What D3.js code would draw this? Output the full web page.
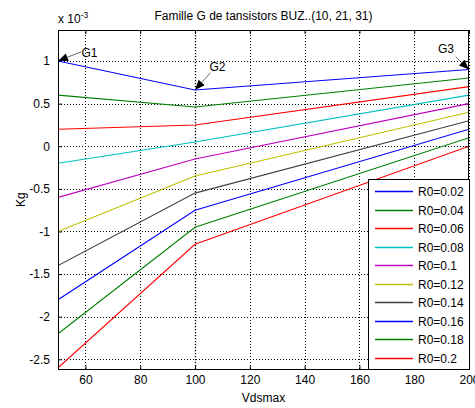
<!DOCTYPE html>
<html>
<head>
<meta charset="utf-8">
<script src="https://cdn.jsdelivr.net/npm/d3@7"></script>
<style>
  html, body { margin: 0; padding: 0; background: #fff; }
  svg { display: block; font-family: "Liberation Sans", Arial, sans-serif; }
</style>
</head>
<body>
<svg id="chart" width="475" height="408"></svg>
<script>
// ---------- data (Kg in units of 1e-3) ----------
const vdsmax = [50, 100, 200];
const r0Labels = ["R0=0.02", "R0=0.04", "R0=0.06", "R0=0.08", "R0=0.1",
                  "R0=0.12", "R0=0.14", "R0=0.16", "R0=0.18", "R0=0.2"];
const kgR0_02 = [1.0, 0.66, 0.9];
const kgR0_04 = [0.6, 0.46, 0.8];
const kgR0_06 = [0.2, 0.25, 0.7];
const kgR0_08 = [-0.2, 0.05, 0.6];
const kgR0_10 = [-0.6, -0.15, 0.5];
const kgR0_12 = [-1.0, -0.35, 0.4];
const kgR0_14 = [-1.4, -0.55, 0.3];
const kgR0_16 = [-1.8, -0.75, 0.2];
const kgR0_18 = [-2.2, -0.95, 0.1];
const kgR0_20 = [-2.6, -1.15, 0.0];
const seriesColors = ["#0000ff", "#008000", "#ff0000", "#00bfbf", "#bf00bf",
                      "#bfbf00", "#404040", "#0000ff", "#008000", "#ff0000"];
const xTicks = [60, 80, 100, 120, 140, 160, 180, 200];
const yTicks = [-2.5, -2, -1.5, -1, -0.5, 0, 0.5, 1];
const markLines = [100];
const annotations = [
  { label: "G1", x: 50, y: 1.0, tail: [23.4, -9.3], text: [23.4, -4] },
  { label: "G2", x: 100, y: 0.66, tail: [15.4, -17.3], text: [14.5, -19.5] },
  { label: "G3", x: 200, y: 0.9, tail: [-13.3, -12.7], text: [-31, -16.5] }
];
const titleText = "Famille G de tansistors BUZ..(10, 21, 31)";

const allSeries = [kgR0_02, kgR0_04, kgR0_06, kgR0_08, kgR0_10,
                   kgR0_12, kgR0_14, kgR0_16, kgR0_18, kgR0_20];
const series = allSeries.map((vals, i) => ({
  name: r0Labels[i], color: seriesColors[i],
  points: vals.map((v, j) => ({ x: vdsmax[j], y: v }))
}));

// ---------- layout ----------
const svg = d3.select("#chart");
const L = 58, R = 469, T = 30, B = 369.3;
const x = d3.scaleLinear().domain([50, 200]).range([L, R]);
const y = d3.scaleLinear().domain([-2.617, 1.364]).range([B, T]);
const FS = 12;

svg.append("rect").attr("width", 475).attr("height", 408).attr("fill", "#fff");

svg.append("defs").append("clipPath").attr("id", "clip")
  .append("rect").attr("x", L).attr("y", T).attr("width", R - L).attr("height", B - T);

// grid
const grid = svg.append("g").attr("stroke", "#000").attr("stroke-width", 1)
  .attr("stroke-dasharray", "1,2").attr("shape-rendering", "crispEdges");
grid.selectAll("line.gx").data(xTicks).join("line")
  .attr("x1", d => Math.round(x(d)) + 0.5).attr("x2", d => Math.round(x(d)) + 0.5)
  .attr("y1", B).attr("y2", T);
grid.selectAll("line.gy").data(yTicks).join("line")
  .attr("y1", d => Math.round(y(d)) + 0.5).attr("y2", d => Math.round(y(d)) + 0.5)
  .attr("x1", L).attr("x2", R);

// emphasized vertical dotted line at Vdsmax = 100
svg.append("g").selectAll("line").data(markLines).join("line")
  .attr("x1", d => Math.round(x(d)) + 0.5).attr("x2", d => Math.round(x(d)) + 0.5)
  .attr("y1", B).attr("y2", T)
  .attr("stroke", "#000").attr("stroke-width", 1.3).attr("stroke-dasharray", "1.3,1.7");

// axes (ticks inward, box)
const ax = svg.append("g").attr("font-size", FS).attr("fill", "#000");
const xAxisB = d3.axisBottom(x).tickValues(xTicks).tickSize(-4).tickFormat(d3.format("d"));
const xAxisT = d3.axisTop(x).tickValues(xTicks).tickSize(-4).tickFormat("");
const yAxisL = d3.axisLeft(y).tickValues(yTicks).tickSize(-4).tickPadding(8).tickFormat(d => String(d));
const yAxisR = d3.axisRight(y).tickValues(yTicks).tickSize(-4).tickFormat("");

function styleAxis(g) {
  g.select(".domain").remove();
  g.selectAll(".tick line").attr("stroke", "#000");
  g.selectAll("text").attr("font-family", "Liberation Sans, Arial, sans-serif")
    .attr("font-size", FS).attr("fill", "#000");
}
ax.append("g").attr("transform", `translate(0,${B})`).call(xAxisB).call(styleAxis)
  .selectAll("text").attr("dy", "0.71em").attr("y", 6.5);
ax.append("g").attr("transform", `translate(0,${T})`).call(xAxisT).call(styleAxis);
ax.append("g").attr("transform", `translate(${L},0)`).call(yAxisL).call(styleAxis);
ax.append("g").attr("transform", `translate(${R},0)`).call(yAxisR).call(styleAxis);

// lines
const line = d3.line().x(d => x(d.x)).y(d => y(d.y));
svg.append("g").attr("clip-path", "url(#clip)")
  .selectAll("path").data(series).join("path")
  .attr("d", d => line(d.points))
  .attr("fill", "none").attr("stroke", d => d.color).attr("stroke-width", 1.1);

// box
svg.append("rect").attr("x", L + 0.5).attr("y", T + 0.5)
  .attr("width", R - L - 1).attr("height", B - T)
  .attr("fill", "none").attr("stroke", "#000").attr("stroke-width", 1)
  .attr("shape-rendering", "crispEdges");

// annotations
const ann = svg.append("g");
annotations.forEach(a => {
  const tx = x(a.x), ty = y(a.y);
  const sx = tx + a.tail[0], sy = ty + a.tail[1];
  const ang = Math.atan2(ty - sy, tx - sx);
  const len = 10, hw = 4;
  const bx = tx - len * Math.cos(ang), by = ty - len * Math.sin(ang);
  ann.append("line").attr("x1", sx).attr("y1", sy).attr("x2", bx).attr("y2", by)
    .attr("stroke", "#444").attr("stroke-width", 0.8);
  ann.append("path")
    .attr("d", `M${tx},${ty}L${bx - hw * Math.sin(ang)},${by + hw * Math.cos(ang)}L${bx + hw * Math.sin(ang)},${by - hw * Math.cos(ang)}Z`)
    .attr("fill", "#000");
  ann.append("text").attr("x", tx + a.text[0]).attr("y", ty + a.text[1])
    .attr("font-size", FS).attr("fill", "#000").text(a.label);
});

// legend
const lg = svg.append("g");
const lgX = 368, lgY = 179, lgW = R - 368, lgH = B - 179;
lg.append("rect").attr("x", lgX + 0.5).attr("y", lgY + 0.5).attr("width", lgW - 0.5).attr("height", lgH - 0.5)
  .attr("fill", "#fff").attr("stroke", "#000").attr("shape-rendering", "crispEdges");
const rows = lg.selectAll("g.row").data(series).join("g")
  .attr("transform", (d, i) => `translate(0,${Math.round(191 + i * 18.5) + 0.5})`);
rows.append("line").attr("x1", 375).attr("x2", 413).attr("y1", 0).attr("y2", 0)
  .attr("stroke", d => d.color).attr("stroke-width", 1.6);
rows.append("text").attr("x", 418).attr("y", 0).attr("dy", "0.35em")
  .attr("font-size", FS).attr("fill", "#000").text(d => d.name);

// title, labels, exponent
svg.append("text").attr("x", (L + R) / 2).attr("y", 20).attr("text-anchor", "middle")
  .attr("font-size", FS).attr("fill", "#000").text(titleText);
svg.append("text").attr("x", (L + R) / 2).attr("y", 402).attr("text-anchor", "middle")
  .attr("font-size", FS).attr("fill", "#000").text("Vdsmax");
svg.append("text").attr("transform", `translate(25,${(T + B) / 2}) rotate(-90)`)
  .attr("text-anchor", "middle").attr("font-size", FS).attr("fill", "#000").text("Kg");
const ex = svg.append("text").attr("x", L).attr("y", 23.3).attr("font-size", FS).attr("fill", "#000");
ex.append("tspan").text("x 10");
ex.append("tspan").attr("font-size", 8.5).attr("dy", -5.5).text("-3");
</script>
</body>
</html>
